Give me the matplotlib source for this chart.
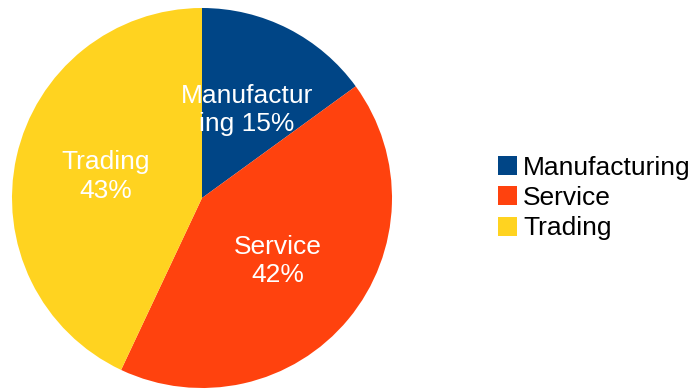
import matplotlib.pyplot as plt
from matplotlib.patches import Patch

plt.rcParams['font.family'] = ['Liberation Sans', 'DejaVu Sans']

sectors = ['Manufacturing', 'Service', 'Trading']
shares = [15, 42, 43]
slice_text = ['Manufactur\ning', 'Service', 'Trading']
colors = ['#004586', '#ff420e', '#ffd320']

labels = []
for name, s in zip(slice_text, shares):
    sep = ' ' if '\n' in name else '\n'
    labels.append(f'{name}{sep}{s}%')

fig = plt.figure(figsize=(6.94, 3.92), dpi=100)
ax = fig.add_axes([12 / 694, 4 / 392, 380 / 694, 380 / 392])
ax.pie(shares, labels=labels, colors=colors, startangle=90, counterclock=False,
       labeldistance=0.52, radius=1,
       textprops={'ha': 'center', 'va': 'center', 'color': 'white', 'fontsize': 19,
                  'linespacing': 1.25})
ax.set_xlim(-1, 1)
ax.set_ylim(-1, 1)
ax.set_aspect('equal')

handles = [Patch(facecolor=c, edgecolor='none') for c in colors]
fig.legend(handles, sectors, loc='center left', bbox_to_anchor=(498 / 694, 1 - 198 / 392),
           frameon=False, fontsize=19, handlelength=0.72, handleheight=0.72,
           handletextpad=0.23, labelspacing=0.24, borderpad=0, borderaxespad=0)

fig.savefig('out.png', dpi=100)
